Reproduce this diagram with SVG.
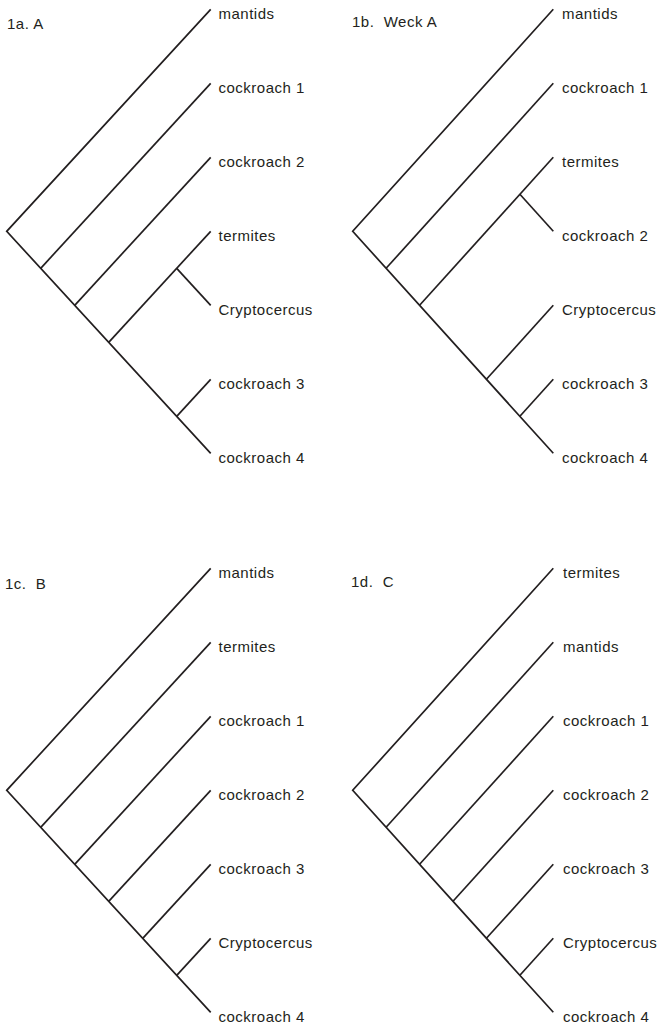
<svg xmlns="http://www.w3.org/2000/svg" width="659" height="1027" viewBox="0 0 659 1027">
  <style>
    .br { fill: none; stroke: #231f20; stroke-width: 1.7; stroke-linecap: butt; stroke-linejoin: miter; }
    .lbl { font-family: "Liberation Sans", Arial, Helvetica, sans-serif; font-size: 15px; letter-spacing: 0.5px; fill: #231f20; }
    .ttl { font-family: "Liberation Sans", Arial, Helvetica, sans-serif; font-size: 15px; letter-spacing: 0.5px; fill: #231f20; white-space: pre; }
  </style>
  <rect width="659" height="1027" fill="#ffffff"/>

  <!-- Panel 1a -->
  <g id="panel-1a">
    <text id="title-1a" class="ttl" x="7" y="29" xml:space="preserve">1a. A</text>
    <g id="branches-1a" class="br">
      <path d="M210.7,9.3 L6.7,231.3 L210.7,453.3"/>
      <path d="M40.7,268.3 L210.7,83.3"/>
      <path d="M74.7,305.3 L210.7,157.3"/>
      <path d="M108.7,342.3 L210.7,231.3"/>
      <path d="M176.7,268.3 L210.7,305.3"/>
      <path d="M176.7,416.3 L210.7,379.3"/>
    </g>
    <g id="a-mantids"><text class="lbl" x="218.5" y="19">mantids</text></g>
    <g id="a-cockroach1"><text class="lbl" x="218.5" y="93">cockroach 1</text></g>
    <g id="a-cockroach2"><text class="lbl" x="218.5" y="167">cockroach 2</text></g>
    <g id="a-termites"><text class="lbl" x="218.5" y="241">termites</text></g>
    <g id="a-cryptocercus"><text class="lbl" x="218.5" y="315">Cryptocercus</text></g>
    <g id="a-cockroach3"><text class="lbl" x="218.5" y="389">cockroach 3</text></g>
    <g id="a-cockroach4"><text class="lbl" x="218.5" y="463">cockroach 4</text></g>
  </g>

  <!-- Panel 1b -->
  <g id="panel-1b">
    <text id="title-1b" class="ttl" x="352" y="27" xml:space="preserve">1b.  Weck A</text>
    <g id="branches-1b" class="br">
      <path d="M553.3,9.3 L352.7,231.3 L553.3,453.3"/>
      <path d="M386.1,268.3 L553.3,83.3"/>
      <path d="M419.6,305.3 L553.3,157.3"/>
      <path d="M519.9,194.3 L553.3,231.3"/>
      <path d="M486.4,379.3 L553.3,305.3"/>
      <path d="M519.9,416.3 L553.3,379.3"/>
    </g>
    <g id="b-mantids"><text class="lbl" x="562" y="19">mantids</text></g>
    <g id="b-cockroach1"><text class="lbl" x="562" y="93">cockroach 1</text></g>
    <g id="b-termites"><text class="lbl" x="562" y="167">termites</text></g>
    <g id="b-cockroach2"><text class="lbl" x="562" y="241">cockroach 2</text></g>
    <g id="b-cryptocercus"><text class="lbl" x="562" y="315">Cryptocercus</text></g>
    <g id="b-cockroach3"><text class="lbl" x="562" y="389">cockroach 3</text></g>
    <g id="b-cockroach4"><text class="lbl" x="562" y="463">cockroach 4</text></g>
  </g>

  <!-- Panel 1c -->
  <g id="panel-1c">
    <text id="title-1c" class="ttl" x="5" y="589" xml:space="preserve">1c.  B</text>
    <g id="branches-1c" class="br">
      <path d="M210.7,568.3 L6.7,790.3 L210.7,1012.3"/>
      <path d="M40.7,827.3 L210.7,642.3"/>
      <path d="M74.7,864.3 L210.7,716.3"/>
      <path d="M108.7,901.3 L210.7,790.3"/>
      <path d="M142.7,938.3 L210.7,864.3"/>
      <path d="M176.7,975.3 L210.7,938.3"/>
    </g>
    <g id="c-mantids"><text class="lbl" x="218.5" y="578">mantids</text></g>
    <g id="c-termites"><text class="lbl" x="218.5" y="652">termites</text></g>
    <g id="c-cockroach1"><text class="lbl" x="218.5" y="726">cockroach 1</text></g>
    <g id="c-cockroach2"><text class="lbl" x="218.5" y="800">cockroach 2</text></g>
    <g id="c-cockroach3"><text class="lbl" x="218.5" y="874">cockroach 3</text></g>
    <g id="c-cryptocercus"><text class="lbl" x="218.5" y="948">Cryptocercus</text></g>
    <g id="c-cockroach4"><text class="lbl" x="218.5" y="1022">cockroach 4</text></g>
  </g>

  <!-- Panel 1d -->
  <g id="panel-1d">
    <text id="title-1d" class="ttl" x="351" y="587" xml:space="preserve">1d.  C</text>
    <g id="branches-1d" class="br">
      <path d="M553.3,568.3 L352.7,790.3 L553.3,1012.3"/>
      <path d="M386.1,827.3 L553.3,642.3"/>
      <path d="M419.6,864.3 L553.3,716.3"/>
      <path d="M453.0,901.3 L553.3,790.3"/>
      <path d="M486.4,938.3 L553.3,864.3"/>
      <path d="M519.9,975.3 L553.3,938.3"/>
    </g>
    <g id="d-termites"><text class="lbl" x="563" y="578">termites</text></g>
    <g id="d-mantids"><text class="lbl" x="563" y="652">mantids</text></g>
    <g id="d-cockroach1"><text class="lbl" x="563" y="726">cockroach 1</text></g>
    <g id="d-cockroach2"><text class="lbl" x="563" y="800">cockroach 2</text></g>
    <g id="d-cockroach3"><text class="lbl" x="563" y="874">cockroach 3</text></g>
    <g id="d-cryptocercus"><text class="lbl" x="563" y="948">Cryptocercus</text></g>
    <g id="d-cockroach4"><text class="lbl" x="563" y="1022">cockroach 4</text></g>
  </g>
</svg>
